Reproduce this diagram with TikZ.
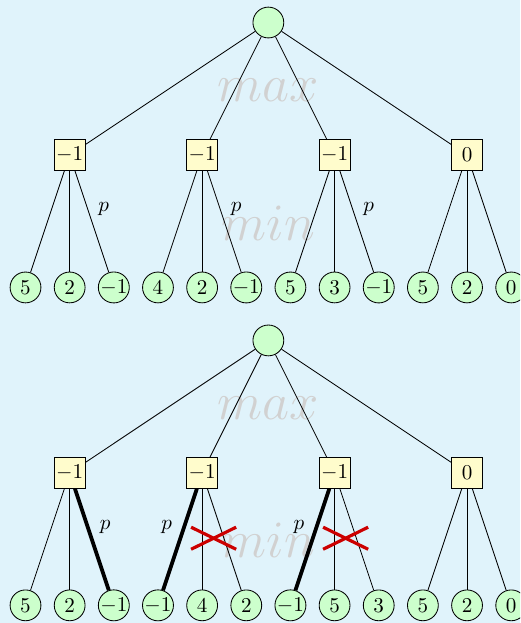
\documentclass[tikz,border=0pt]{standalone}
\usepackage{amsmath}
\usepackage{tikz}
\definecolor{slidebg}{RGB}{224,243,251}
\definecolor{prunered}{RGB}{204,0,0}
\tikzset{
  maxnode/.style={circle, draw, fill=green!20, minimum size=14.6pt, inner sep=0pt},
  minnode/.style={rectangle, draw, fill=yellow!20, minimum size=14.6pt, inner sep=0pt},
  leafnode/.style={circle, draw, fill=green!20, minimum size=14.6pt, inner sep=0pt},
  bestmove/.style={line width=1.8pt},
  prunemark/.style={draw=prunered, line width=1.5pt},
  levelname/.style={text=black!18, font=\Huge, anchor=base}}

\begin{document}
\begin{tikzpicture}[x=0.735cm, y=0.735cm]
\useasboundingbox (-0.578,0.51) rectangle (11.2,-13.6);
\clip (-0.578,0.51) rectangle (11.2,-13.6);
\fill [slidebg] (-0.578,0.51) rectangle (11.2,-13.6);
% level names
\node [levelname] (tmax) at (5.5,-1.78) {$max$};
\node [levelname] (tmin) at (5.5,-4.93) {$min$};
\node [levelname] (bmax) at (5.5,-8.99) {$max$};
\node [levelname] (bmin) at (5.5,-12.12) {$min$};
% upper tree
\node [maxnode] (r) at (5.5,0) {};
\node [minnode] (m1) at (1,-3) {$-1$};
\node [minnode] (m2) at (4,-3) {$-1$};
\node [minnode] (m3) at (7,-3) {$-1$};
\node [minnode] (m4) at (10,-3) {$0$};
\node [leafnode] (l1) at (0,-6) {$5$};
\node [leafnode] (l2) at (1,-6) {$2$};
\node [leafnode] (l3) at (2,-6) {$-1$};
\node [leafnode] (l4) at (3,-6) {$4$};
\node [leafnode] (l5) at (4,-6) {$2$};
\node [leafnode] (l6) at (5,-6) {$-1$};
\node [leafnode] (l7) at (6,-6) {$5$};
\node [leafnode] (l8) at (7,-6) {$3$};
\node [leafnode] (l9) at (8,-6) {$-1$};
\node [leafnode] (l10) at (9,-6) {$5$};
\node [leafnode] (l11) at (10,-6) {$2$};
\node [leafnode] (l12) at (11,-6) {$0$};
\draw (r) -- (m1);
\draw (r) -- (m2);
\draw (r) -- (m3);
\draw (r) -- (m4);
\draw (m1) -- (l1);
\draw (m1) -- (l2);
\draw (m1) to node[pos=.38, right=1.5pt]{$p$} (l3);
\draw (m2) -- (l4);
\draw (m2) -- (l5);
\draw (m2) to node[pos=.38, right=1.5pt]{$p$} (l6);
\draw (m3) -- (l7);
\draw (m3) -- (l8);
\draw (m3) to node[pos=.38, right=1.5pt]{$p$} (l9);
\draw (m4) -- (l10);
\draw (m4) -- (l11);
\draw (m4) -- (l12);
% lower tree
\node [maxnode] (br) at (5.5,-7.2) {};
\node [minnode] (bm1) at (1,-10.2) {$-1$};
\node [minnode] (bm2) at (4,-10.2) {$-1$};
\node [minnode] (bm3) at (7,-10.2) {$-1$};
\node [minnode] (bm4) at (10,-10.2) {$0$};
\node [leafnode] (bl1) at (0,-13.2) {$5$};
\node [leafnode] (bl2) at (1,-13.2) {$2$};
\node [leafnode] (bl3) at (2,-13.2) {$-1$};
\node [leafnode] (bl4) at (3,-13.2) {$-1$};
\node [leafnode] (bl5) at (4,-13.2) {$4$};
\node [leafnode] (bl6) at (5,-13.2) {$2$};
\node [leafnode] (bl7) at (6,-13.2) {$-1$};
\node [leafnode] (bl8) at (7,-13.2) {$5$};
\node [leafnode] (bl9) at (8,-13.2) {$3$};
\node [leafnode] (bl10) at (9,-13.2) {$5$};
\node [leafnode] (bl11) at (10,-13.2) {$2$};
\node [leafnode] (bl12) at (11,-13.2) {$0$};
\draw (br) -- (bm1);
\draw (br) -- (bm2);
\draw (br) -- (bm3);
\draw (br) -- (bm4);
\draw (bm1) -- (bl1);
\draw (bm1) -- (bl2);
\draw [bestmove] (bm1) to node[pos=.38, right=1.5pt]{$p$} (bl3);
\draw [bestmove] (bm2) to node[pos=.38, left=1.5pt]{$p$} (bl4);
\draw (bm2) -- (bl5);
\draw (bm2) -- (bl6);
\draw [bestmove] (bm3) to node[pos=.38, left=1.5pt]{$p$} (bl7);
\draw (bm3) -- (bl8);
\draw (bm3) -- (bl9);
\draw (bm4) -- (bl10);
\draw (bm4) -- (bl11);
\draw (bm4) -- (bl12);
% pruned branches
\draw [prunemark] (3.75,-11.93) -- (4.77,-11.43);
\draw [prunemark] (3.75,-11.43) -- (4.77,-11.93);
\draw [prunemark] (6.74,-11.93) -- (7.76,-11.43);
\draw [prunemark] (6.74,-11.43) -- (7.76,-11.93);
\end{tikzpicture}
\end{document}
